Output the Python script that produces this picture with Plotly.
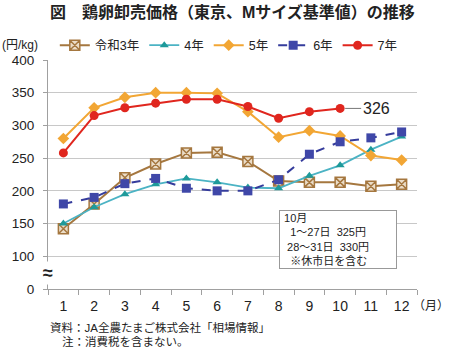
import plotly.graph_objects as go

months = list(range(1, 13))
month_labels = [str(m) for m in months]

r3 = [142, 180, 220, 241, 258, 259, 245, 215, 213, 213, 207, 210]
r4 = [150, 175, 195, 210, 219, 213, 205, 204, 223, 239, 263, 283]
r5 = [280, 327, 343, 350, 350, 349, 321, 282, 292, 284, 254, 247]
r6 = [180, 190, 211, 219, 204, 200, 200, 217, 256, 275, 281, 290]
r7 = [258, 315, 327, 334, 340, 340, 329, 311, 321, 326]

ytick_vals = [50, 100, 150, 200, 250, 300, 350, 400]
ytick_text = ["0", "100", "150", "200", "250", "300", "350", "400"]

FONT = "Liberation Sans, Arial, Noto Sans CJK JP, sans-serif"

fig = go.Figure()

fig.add_trace(go.Scatter(
    x=months, y=r3, name="令和3年", mode="lines+markers",
    line=dict(color="#A5773F", width=2),
    marker=dict(symbol="square-x", size=10, color="#EBDDC8",
                line=dict(color="#A5773F", width=1.5))))
fig.add_trace(go.Scatter(
    x=months, y=r4, name="4年", mode="lines+markers",
    line=dict(color="#4BB3C4", width=1.8),
    marker=dict(symbol="triangle-up", size=8, color="#1E9A9A")))
fig.add_trace(go.Scatter(
    x=months, y=r5, name="5年", mode="lines+markers",
    line=dict(color="#F2A634", width=2),
    marker=dict(symbol="diamond", size=9, color="#F2A634")))
fig.add_trace(go.Scatter(
    x=months, y=r6, name="6年", mode="lines+markers",
    line=dict(color="#353C9C", width=2, dash="dash"),
    marker=dict(symbol="square", size=9, color="#3F47A8")))
fig.add_trace(go.Scatter(
    x=months[:len(r7)], y=r7, name="7年", mode="lines+markers",
    line=dict(color="#E0261E", width=2),
    marker=dict(symbol="circle", size=9, color="#E0261E")))

annotations = [
    dict(text="<b>図　鶏卵卸売価格（東京、Mサイズ基準値）の推移</b>",
         xref="paper", yref="paper", x=0.5, y=1, yshift=48, xanchor="center",
         yanchor="middle", font=dict(size=16, color="#222"), showarrow=False),
    dict(text="(円/kg)", xref="paper", yref="paper", x=0, xshift=-48, y=1, yshift=15,
         showarrow=False, font=dict(size=12, color="#222"), xanchor="left",
         yanchor="middle"),
    dict(text="326", x=10, y=326, xref="x", yref="y", showarrow=True,
         arrowhead=0, arrowcolor="#777", arrowwidth=1, ax=36, ay=0, standoff=5,
         font=dict(size=16, color="#222")),
    dict(text=" 10月<br>   1～27日  325円<br>  28～31日  330円<br>   ※休市日を含む",
         x=9.93, y=126, xref="x", yref="y", showarrow=False, align="left",
         xanchor="center", yanchor="middle", bordercolor="#999", borderwidth=1,
         borderpad=1, width=114, bgcolor="white",
         font=dict(size=11, color="#222")),
    dict(text="<b>≈</b>", xref="paper", yref="y", x=0, y=75, showarrow=False,
         xanchor="center", yanchor="middle", font=dict(size=18, color="#222"),
         bgcolor="white"),
    dict(text="（月）", xref="paper", yref="paper", x=1.0, xshift=-6, y=0, yshift=-17,
         showarrow=False, xanchor="left", yanchor="middle",
         font=dict(size=12, color="#222")),
    dict(text="資料：JA全農たまご株式会社「相場情報」", xref="paper", yref="paper",
         x=0, y=0, yshift=-38, xanchor="left", yanchor="middle", showarrow=False,
         font=dict(size=11.5, color="#222")),
    dict(text="注：消費税を含まない。", xref="paper", yref="paper",
         x=0, y=0, xshift=12, yshift=-52, xanchor="left", yanchor="middle", showarrow=False,
         font=dict(size=11.5, color="#222")),
]

fig.update_layout(
    width=450, height=347,
    margin=dict(l=48, r=33, t=60, b=58),
    paper_bgcolor="white", plot_bgcolor="white",
    font=dict(family=FONT, color="#222"),
    showlegend=True,
    legend=dict(orientation="h", x=0.49, y=1.063, xanchor="center", yanchor="middle",
                font=dict(size=12.5), itemwidth=30, tracegroupgap=0,
                bgcolor="rgba(0,0,0,0)"),
    annotations=annotations,
)
fig.update_xaxes(
    range=[0.5, 12.5], tickvals=months, ticktext=month_labels,
    ticks="", showgrid=False, showline=True, linecolor="#A0A0A0", linewidth=1,
    tickfont=dict(size=14), ticklabelstandoff=4,
    minor=dict(tick0=0.5, dtick=1, ticks="outside", ticklen=5, tickcolor="#A0A0A0",
               showgrid=False),
    zeroline=False,
)
fig.update_yaxes(
    range=[50, 400], tickvals=ytick_vals, ticktext=ytick_text,
    showgrid=True, gridcolor="#C8C8C8", gridwidth=1,
    showline=True, linecolor="#A0A0A0", linewidth=1,
    ticks="outside", ticklen=4, tickcolor="#A0A0A0",
    tickfont=dict(size=13.5), ticklabelstandoff=6, zeroline=False,
)

fig.write_html("out.html")
